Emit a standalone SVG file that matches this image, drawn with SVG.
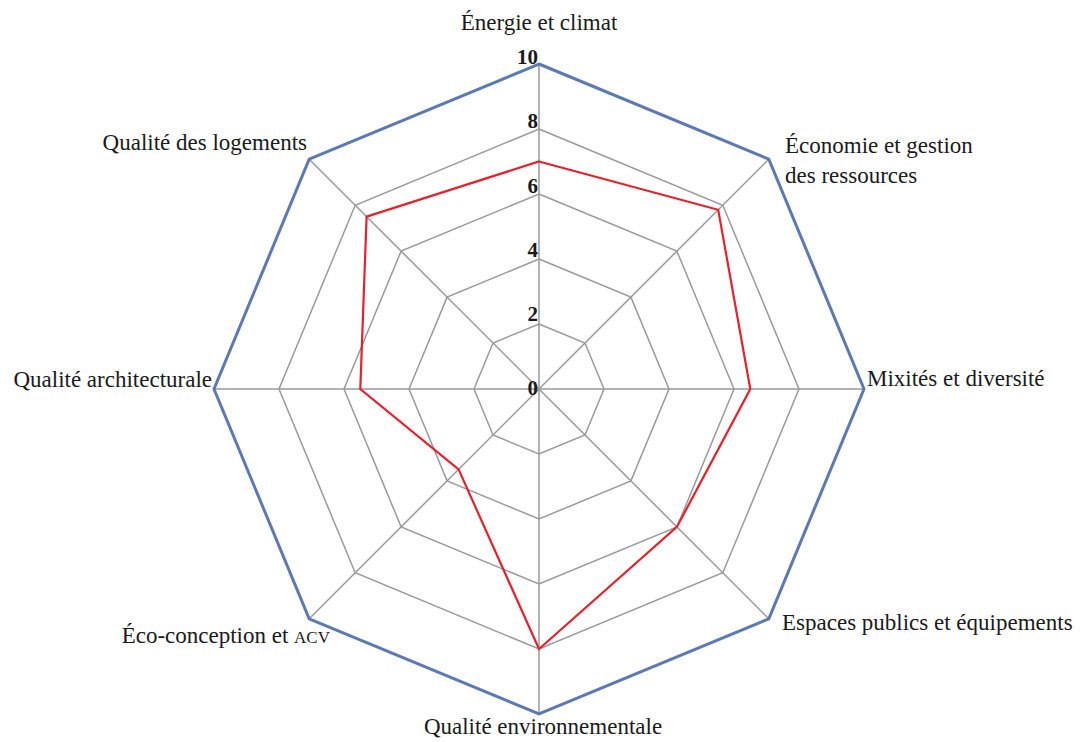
<svg xmlns="http://www.w3.org/2000/svg" width="1083" height="742" viewBox="0 0 1083 742">
<style>
.grid{fill:none;stroke:#9a9a9a;stroke-width:1.5}
.outer{fill:none;stroke:#5b79b5;stroke-width:3;stroke-linejoin:miter}
.data{fill:none;stroke:#e8202a;stroke-width:2.2;stroke-linejoin:miter}
.lbl{font-family:"Liberation Serif",serif;font-size:23px;fill:#1a1a1a}
.num{font-family:"Liberation Serif",serif;font-size:21px;font-weight:bold;fill:#1a1a1a;text-anchor:end}
</style>
<rect width="1083" height="742" fill="#ffffff"/>
<g id="connectors">
<g id="spokes" class="grid">
<line x1="539" y1="389" x2="539" y2="64"/>
<line x1="539" y1="389" x2="768.8" y2="159.2"/>
<line x1="539" y1="389" x2="864" y2="389"/>
<line x1="539" y1="389" x2="768.8" y2="618.8"/>
<line x1="539" y1="389" x2="539" y2="714"/>
<line x1="539" y1="389" x2="309.2" y2="618.8"/>
<line x1="539" y1="389" x2="214" y2="389"/>
<line x1="539" y1="389" x2="309.2" y2="159.2"/>
</g>
<g id="rings">
<polygon class="grid" points="539,324 585,343 604,389 585,435 539,454 493,435 474,389 493,343"/>
<polygon class="grid" points="539,259 630.9,297.1 669,389 630.9,480.9 539,519 447.1,480.9 409,389 447.1,297.1"/>
<polygon class="grid" points="539,194 676.9,251.1 734,389 676.9,526.9 539,584 401.1,526.9 344,389 401.1,251.1"/>
<polygon class="grid" points="539,129 722.8,205.2 799,389 722.8,572.8 539,649 355.2,572.8 279,389 355.2,205.2"/>
<polygon class="outer" points="539,64 768.8,159.2 864,389 768.8,618.8 539,714 309.2,618.8 214,389 309.2,159.2"/>
</g>
<polygon id="series" class="data" points="539,161.5 718.2,209.8 750.3,389 676.9,526.9 539,649 458.6,469.4 360.3,389 366.6,216.6"/>
</g>
<g id="scale">
<text class="num" x="538" y="64">10</text>
<text class="num" x="538" y="128">8</text>
<text class="num" x="538" y="193">6</text>
<text class="num" x="538" y="257">4</text>
<text class="num" x="538" y="321">2</text>
<text class="num" x="538" y="395">0</text>
</g>
<g id="n1"><text class="lbl" x="539" y="30" text-anchor="middle">Énergie et climat</text></g>
<g id="n2"><text class="lbl" x="785" y="153">Économie et gestion</text><text class="lbl" x="785" y="183">des ressources</text></g>
<g id="n3"><text class="lbl" x="867" y="386">Mixités et diversité</text></g>
<g id="n4"><text class="lbl" x="782" y="630">Espaces publics et équipements</text></g>
<g id="n5"><text class="lbl" x="543" y="734" text-anchor="middle">Qualité environnementale</text></g>
<g id="n6"><text class="lbl" x="330" y="643" text-anchor="end">Éco-conception et <tspan font-size="17">ACV</tspan></text></g>
<g id="n7"><text class="lbl" x="212" y="387" text-anchor="end">Qualité architecturale</text></g>
<g id="n8"><text class="lbl" x="307" y="150" text-anchor="end">Qualité des logements</text></g>
</svg>
